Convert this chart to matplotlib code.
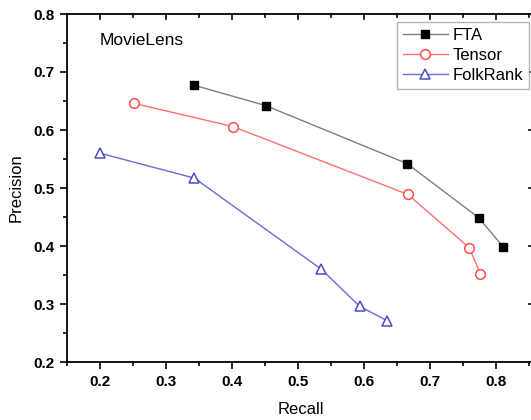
import numpy as np
import matplotlib.pyplot as plt
from matplotlib.ticker import MultipleLocator

plt.rcParams['font.family'] = ['Liberation Sans', 'DejaVu Sans']

# data
fta_recall = [0.343, 0.451, 0.665, 0.773, 0.810]
fta_precision = [0.677, 0.642, 0.542, 0.449, 0.399]
tensor_recall = [0.251, 0.401, 0.666, 0.759, 0.776]
tensor_precision = [0.646, 0.606, 0.489, 0.397, 0.352]
folk_recall = [0.200, 0.343, 0.535, 0.593, 0.635]
folk_precision = [0.560, 0.517, 0.360, 0.296, 0.271]

W, H = 531, 420
fig = plt.figure(figsize=(W / 100, H / 100), dpi=100)
ax = fig.add_axes([67 / W, 1 - 362 / H, (534 - 67) / W, (362 - 14) / H])

ax.plot(fta_recall, fta_precision, color='#808080', lw=1, marker='s', ms=6,
        mfc='black', mec='black', label='FTA')
ax.plot(tensor_recall, tensor_precision, color='#ff7070', lw=1, marker='o', ms=7,
        mfc='white', mec='#ff4d4d', mew=1.1, label='Tensor')
ax.plot(folk_recall, folk_precision, color='#6a6ad8', lw=1, marker='^', ms=7.5,
        mfc='white', mec='#4b4bc8', mew=1.1, label='FolkRank')

ax.set_xlim(0.15, 0.857)
ax.set_ylim(0.2, 0.8)
ax.xaxis.set_major_locator(MultipleLocator(0.1))
ax.xaxis.set_minor_locator(MultipleLocator(0.05))
ax.yaxis.set_major_locator(MultipleLocator(0.1))
ax.yaxis.set_minor_locator(MultipleLocator(0.05))
ax.xaxis.set_major_formatter(plt.FuncFormatter(lambda v, p: f'{v:.1f}'))
ax.yaxis.set_major_formatter(plt.FuncFormatter(lambda v, p: f'{v:.1f}'))

for s in ax.spines.values():
    s.set_linewidth(1.3)
ax.tick_params(which='both', direction='out', top=False, right=False, width=1.2)
ax.tick_params(which='major', length=5, labelsize=11, pad=4)
ax.tick_params(which='minor', length=3)
for lab in ax.get_xticklabels() + ax.get_yticklabels():
    lab.set_fontweight('bold')

# inward ticks on top and right, like the source
for v in np.arange(0.2, 0.86, 0.05):
    big = abs(v * 10 - round(v * 10)) < 1e-6
    ax.plot([v, v], [0.8, 0.8 - (0.009 if big else 0.006)], color='black', lw=1.2, clip_on=False)
for v in [0.3, 0.4, 0.5, 0.6, 0.7]:
    ax.plot([0.857, 0.857 - 0.008], [v, v], color='black', lw=1.2, clip_on=False)

ax.set_xlabel('Recall', fontsize=12, labelpad=10)
ax.set_ylabel('Precision', fontsize=12, labelpad=7)
ax.text(0.2, 0.755, 'MovieLens', fontsize=12.5, ha='left', va='center')

leg = ax.legend(loc='upper right', bbox_to_anchor=(529 / W, 1 - 22 / H),
                bbox_transform=fig.transFigure, borderaxespad=0, fontsize=12,
                frameon=True, fancybox=False, edgecolor='#a0a0a0',
                handlelength=2.7, handletextpad=0.3, labelspacing=0.3,
                borderpad=0.35)
leg.get_frame().set_linewidth(1.0)

fig.savefig('out.png', dpi=100)
